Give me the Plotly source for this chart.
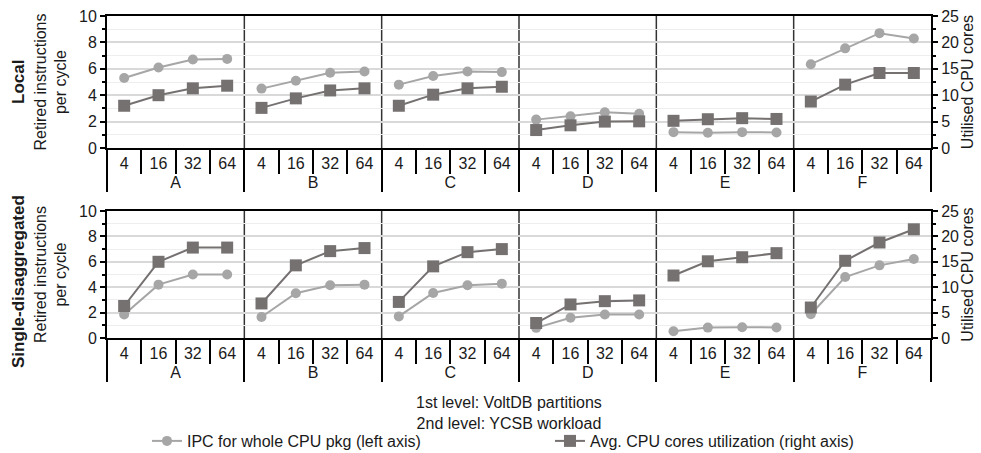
import plotly.graph_objects as go
from plotly.subplots import make_subplots

# ---------------- data ----------------
workloads = ["A", "B", "C", "D", "E", "F"]
partitions = ["4", "16", "32", "64"]

# Local: IPC (left axis) and utilised CPU cores (right axis), 4 partitions per workload
local_ipc = [5.3, 6.1, 6.7, 6.75,
             4.5, 5.1, 5.7, 5.8,
             4.8, 5.45, 5.8, 5.75,
             2.15, 2.4, 2.7, 2.6,
             1.2, 1.15, 1.2, 1.18,
             6.35, 7.55, 8.7, 8.3]
local_cores = [8.0, 10.0, 11.3, 11.8,
               7.6, 9.4, 10.9, 11.3,
               8.0, 10.1, 11.3, 11.6,
               3.4, 4.3, 5.0, 5.05,
               5.15, 5.45, 5.65, 5.5,
               8.8, 12.0, 14.2, 14.2]

# Single-disaggregated
disagg_ipc = [1.85, 4.2, 5.0, 5.0,
              1.65, 3.52, 4.15, 4.2,
              1.7, 3.55, 4.15, 4.28,
              0.8, 1.6, 1.85, 1.85,
              0.53, 0.82, 0.85, 0.83,
              1.87, 4.8, 5.72, 6.22]
disagg_cores = [6.3, 15.0, 17.8, 17.8,
                6.8, 14.3, 17.1, 17.7,
                7.1, 14.1, 16.9, 17.5,
                2.95, 6.6, 7.25, 7.4,
                12.3, 15.1, 15.9, 16.7,
                6.0, 15.2, 18.8, 21.4]

ipc_name = "IPC for whole CPU pkg (left axis)"
cores_name = "Avg. CPU cores utilization (right axis)"
row_titles = ["Local", "Single-disaggregated"]

# ---------------- style ----------------
FONT = "Liberation Sans, Arial, sans-serif"
C_IPC = "#a6a6a6"
C_CORES = "#767171"
TXT = "#1a1a1a"

fig = make_subplots(rows=2, cols=1, specs=[[{"secondary_y": True}], [{"secondary_y": True}]])

rows_data = [(local_ipc, local_cores), (disagg_ipc, disagg_cores)]
n = len(partitions)
for r, (ipc, cores) in enumerate(rows_data, start=1):
    for g, wl in enumerate(workloads):
        xs = [[wl] * n, partitions]
        fig.add_trace(go.Scatter(
            x=xs, y=ipc[g * n:(g + 1) * n], mode="lines+markers", name=ipc_name,
            legendgroup="ipc", showlegend=(r == 1 and g == 0),
            line=dict(color=C_IPC, width=2), marker=dict(symbol="circle", size=10, color=C_IPC)),
            row=r, col=1, secondary_y=False)
    for g, wl in enumerate(workloads):
        xs = [[wl] * n, partitions]
        fig.add_trace(go.Scatter(
            x=xs, y=cores[g * n:(g + 1) * n], mode="lines+markers", name=cores_name,
            legendgroup="cores", showlegend=(r == 1 and g == 0),
            line=dict(color=C_CORES, width=2), marker=dict(symbol="square", size=12, color=C_CORES)),
            row=r, col=1, secondary_y=True)

W, H = 981, 453
ML, MR, MT, MB = 107, 50, 16, 115
ph = H - MT - MB  # 322
def py(pix):
    return (H - MB - pix) / ph
def px(pix):
    return (pix - ML) / (W - ML - MR)

ncat = len(workloads) * n
xcommon = dict(
    type="multicategory", domain=[0, 1], range=[-0.5, ncat - 0.5],
    showline=True, linecolor="black", linewidth=2, mirror=True,
    ticks="outside", tickson="boundaries", ticklen=24, tickwidth=1.5, tickcolor="black",
    showdividers=True, dividercolor="black", dividerwidth=1.5,
    tickfont=dict(family=FONT, size=16, color=TXT), showgrid=False, automargin=False,
)
fig.update_xaxes(**xcommon)

ycommon = dict(
    range=[0, 10], dtick=2, tick0=0, showline=True, linecolor="black", linewidth=2,
    ticks="outside", ticklen=5, tickwidth=1.5, tickcolor="black",
    showgrid=True, gridcolor="#d9d9d9", gridwidth=1.5, zeroline=False,
    minor=dict(dtick=1, tick0=0, ticks="outside", ticklen=3, tickcolor="black",
               showgrid=True, gridcolor="#eeeeee", gridwidth=1),
    tickfont=dict(family=FONT, size=16, color=TXT), automargin=False,
    title=dict(text="Retired instructions<br>per cycle", font=dict(family=FONT, size=16, color=TXT), standoff=8),
)
y2common = dict(
    range=[0, 25], dtick=5, tick0=0, showline=True, linecolor="black", linewidth=2,
    ticks="outside", ticklen=5, tickwidth=1.5, tickcolor="black", showgrid=False, zeroline=False,
    minor=dict(dtick=2.5, tick0=0, ticks="outside", ticklen=3, tickcolor="black", showgrid=False),
    tickfont=dict(family=FONT, size=16, color=TXT), automargin=False,
    title=dict(text="Utilised CPU cores", font=dict(family=FONT, size=16, color=TXT), standoff=2),
)
fig.update_yaxes(**ycommon, secondary_y=False)
fig.update_yaxes(**y2common, secondary_y=True)

fig.update_layout(
    yaxis=dict(domain=[py(148), py(16)]),
    yaxis2=dict(domain=[py(148), py(16)]),
    yaxis3=dict(domain=[py(338), py(211)]),
    yaxis4=dict(domain=[py(338), py(211)]),
)

shapes = []
for xr, yr in [("x domain", "y domain"), ("x2 domain", "y3 domain")]:
    for k in range(1, len(workloads)):
        shapes.append(dict(type="line", xref=xr, yref=yr, x0=k / 6, x1=k / 6, y0=0, y1=1,
                           line=dict(color="#333333", width=1.5), layer="below"))

annotations = [
    dict(text="<b>" + row_titles[0] + "</b>", xref="paper", yref="paper", x=px(18), y=py(82),
         xanchor="center", yanchor="middle",
         textangle=-90, showarrow=False, font=dict(family=FONT, size=17, color=TXT)),
    dict(text="<b>" + row_titles[1] + "</b>", xref="paper", yref="paper", x=px(18), y=py(282),
         xanchor="center", yanchor="middle",
         textangle=-90, showarrow=False, font=dict(family=FONT, size=17, color=TXT)),
    dict(text="1st level: VoltDB partitions<br>2nd level: YCSB workload", xref="paper", yref="paper",
         x=px(509), y=py(413), xanchor="center", yanchor="middle",
         showarrow=False, font=dict(family=FONT, size=16, color=TXT)),
]

fig.update_layout(
    width=W, height=H, autosize=False,
    margin=dict(l=ML, r=MR, t=MT, b=MB, autoexpand=False),
    paper_bgcolor="white", plot_bgcolor="white",
    font=dict(family=FONT, size=16, color=TXT),
    shapes=shapes, annotations=annotations,
    showlegend=True,
    legend=dict(orientation="h", x=px(147), xanchor="left", y=py(424), yanchor="top",
                font=dict(family=FONT, size=16, color=TXT), entrywidth=358,
                bgcolor="rgba(0,0,0,0)", tracegroupgap=0, itemwidth=30),
)

fig.write_html("out.html", config={"displayModeBar": False},
               post_script="document.body.style.margin='0';")
